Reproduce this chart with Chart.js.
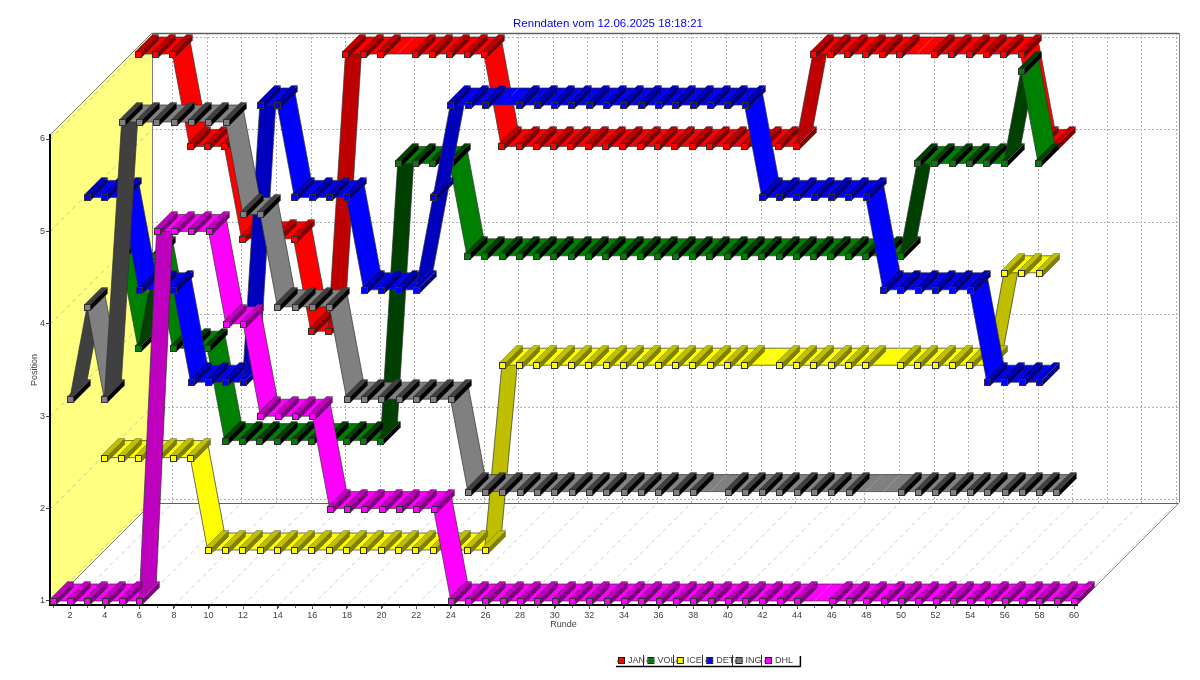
<!DOCTYPE html>
<html>
<head>
<meta charset="utf-8">
<title>Renndaten</title>
<script src="https://cdn.jsdelivr.net/npm/chart.js@4"></script>
<style>
  html, body { margin: 0; padding: 0; background: #fff; }
  canvas { display: block; }
</style>
</head>
<body>
<canvas id="raceChart" width="1200" height="680"></canvas>
<script>
/* ============================================================
   RENNDATEN — position per lap, one ribbon per team
   ============================================================ */

const teams = ['JAN', 'VOL', 'ICE', 'DET', 'ING', 'DHL'];
const teamColors = ['#ff0000', '#008000', '#ffff00', '#0000ff', '#808080', '#ff00ff'];

const roundTicks = [2, 4, 6, 8, 10, 12, 14, 16, 18, 20, 22, 24, 26, 28, 30, 32, 34, 36, 38, 40, 42, 44, 46, 48, 50, 52, 54, 56, 58, 60];
const positionTicks = [1, 2, 3, 4, 5, 6];

const jan = [6,6,6,5,5,5,4,4,4,4,3,3,6,6,6,6,6,6,6,6,6,5,5,5,5,5,5,5,5,5,5,5,5,5,5,5,5,5,5,6,6,6,6,6,6,6,6,6,6,6,6,6,5,5];
const vol = [4,3,4,3,3,3,2,2,2,2,2,2,2,2,2,2,5,5,5,5,4,4,4,4,4,4,4,4,4,4,4,4,4,4,4,4,4,4,4,4,4,4,4,4,4,4,5,5,5,5,5,5,6,5];
const ice = [2,2,2,2,2,2,1,1,1,1,1,1,1,1,1,1,1,1,1,1,1,1,1,3,3,3,3,3,3,3,3,3,3,3,3,3,3,3,3,3,3,3,3,3,3,3,3,3,3,3,3,3,4,4,4];
const det = [5,5,5,4,4,4,3,3,3,3,6,6,5,5,5,5,4,4,4,4,5,6,6,6,6,6,6,6,6,6,6,6,6,6,6,6,6,6,6,5,5,5,5,5,5,5,4,4,4,4,4,4,3,3,3,3];
const ing = [3,4,3,6,6,6,6,6,6,6,5,5,4,4,4,4,3,3,3,3,3,3,3,2,2,2,2,2,2,2,2,2,2,2,2,2,2,2,2,2,2,2,2,2,2,2,2,2,2,2,2,2,2,2,2,2,2,2];
const dhl = [1,1,1,1,1,1,5,5,5,5,4,4,3,3,3,3,2,2,2,2,2,2,2,1,1,1,1,1,1,1,1,1,1,1,1,1,1,1,1,1,1,1,1,1,1,1,1,1,1,1,1,1,1,1,1,1,1,1,1,1];
const teamValues = [jan, vol, ice, det, ing, dhl];

// rounds where the ribbon carries no pointer
const janNoPointer = [16, 46];
const volNoPointer = [];
const iceNoPointer = [39, 46];
const detNoPointer = [25];
const ingNoPointer = [38, 47, 48];
const dhlNoPointer = [45];
const noPointers = [janNoPointer, volNoPointer, iceNoPointer, detNoPointer, ingNoPointer, dhlNoPointer];

const SLOT = 17;                   // depth of one team's ribbon
const DEPTH = SLOT * teams.length; // depth of the whole box
const POINTER = 3;                 // half size of the pointer front
const FONT = '"Liberation Sans", Arial, sans-serif';

function darker(hex, amount) {
  const n = parseInt(hex.slice(1), 16);
  const c = [n >> 16, (n >> 8) & 255, n & 255].map(v => Math.max(0, v - amount));
  return `rgb(${c[0]},${c[1]},${c[2]})`;
}

function poly(ctx, pts, fill) {
  ctx.beginPath();
  pts.forEach((p, i) => i ? ctx.lineTo(p[0], p[1]) : ctx.moveTo(p[0], p[1]));
  ctx.closePath();
  ctx.fillStyle = fill;
  ctx.fill();
}

function line(ctx, x1, y1, x2, y2, color, dash, width) {
  ctx.beginPath();
  ctx.setLineDash(dash || []);
  ctx.strokeStyle = color;
  ctx.lineWidth = width || 1;
  ctx.moveTo(x1, y1);
  ctx.lineTo(x2, y2);
  ctx.stroke();
  ctx.setLineDash([]);
}

// Walls, floor and their grid
function drawBox(chart) {
  const { ctx, chartArea: a, scales: { x, y } } = chart;
  const d = DEPTH;

  ctx.save();
  ctx.fillStyle = '#fff';
  ctx.fillRect(0, 0, chart.width, chart.height);

  poly(ctx, [[a.left, a.top], [a.left + d, a.top - d], [a.left + d, a.bottom - d], [a.left, a.bottom]], '#ffff80');

  roundTicks.forEach(r => {
    const px = Math.round(x.getPixelForValue(r)) + 0.5;
    line(ctx, px + d, a.top - d, px + d, a.bottom - d, '#b0b0b0', [2, 2]);
    line(ctx, px, a.bottom, px + d, a.bottom - d, '#cccccc', [4, 4]);
  });
  positionTicks.forEach(p => {
    const py = Math.round(y.getPixelForValue(p)) + 0.5;
    line(ctx, a.left + d, py - d, a.right + d, py - d, '#b0b0b0', [2, 2]);
    line(ctx, a.left, py, a.left + d, py - d, '#c0c0a8', [4, 4]);
  });

  // box outline
  line(ctx, a.left + d, a.top - d + 0.5, a.right + d, a.top - d + 0.5, '#606060', null, 1.5);
  line(ctx, a.left + d + 0.5, a.top - d, a.left + d + 0.5, a.bottom - d, '#808080');
  line(ctx, a.right + d + 0.5, a.top - d, a.right + d + 0.5, a.bottom - d, '#808080');
  line(ctx, a.left + d, a.bottom - d + 0.5, a.right + d, a.bottom - d + 0.5, '#606060');
  line(ctx, a.left, a.top, a.left + d, a.top - d, '#808080');
  line(ctx, a.left, a.bottom, a.left + d, a.bottom - d, '#808080');
  line(ctx, a.right, a.bottom, a.right + d, a.bottom - d, '#808080');

  ctx.restore();
}

function drawRibbon(ctx, points, color, offset) {
  const edge = 'rgba(50,50,50,0.7)';
  for (let j = 0; j < points.length - 1; j++) {
    const x1 = points[j].x + offset, y1 = points[j].y - offset;
    const x2 = points[j + 1].x + offset, y2 = points[j + 1].y - offset;
    const fill = y2 < y1 - 1 ? darker(color, 64) : color;
    poly(ctx, [[x1, y1], [x1 + SLOT, y1 - SLOT], [x2 + SLOT, y2 - SLOT], [x2, y2]], fill);
    line(ctx, x1, y1, x2, y2, edge);
    line(ctx, x1 + SLOT, y1 - SLOT, x2 + SLOT, y2 - SLOT, edge);
  }
}

function drawPointer(ctx, px, py, color) {
  const h = POINTER, s = SLOT;
  const l = Math.round(px) + 0.5, t = Math.round(py) + 0.5;
  poly(ctx, [[l - h, t - h], [l + h, t - h], [l + h + s, t - h - s], [l - h + s, t - h - s]], darker(color, 64));
  poly(ctx, [[l + h, t - h], [l + h, t + h], [l + h + s, t + h - s], [l + h + s, t - h - s]], darker(color, 128));
  ctx.beginPath();
  ctx.moveTo(l - h, t - h);
  ctx.lineTo(l - h + s, t - h - s);
  ctx.lineTo(l + h + s, t - h - s);
  ctx.lineTo(l + h + s, t + h - s);
  ctx.lineTo(l + h, t + h);
  ctx.strokeStyle = 'rgba(60,60,60,0.35)';
  ctx.lineWidth = 1;
  ctx.stroke();
  ctx.fillStyle = color;
  ctx.fillRect(l - h, t - h, h * 2, h * 2);
  ctx.strokeStyle = '#303030';
  ctx.strokeRect(l - h, t - h, h * 2, h * 2);
}

// Back team first, so the front ribbons cover it
function drawTeams(chart) {
  const { ctx } = chart;
  ctx.save();
  chart.data.datasets.forEach((ds, i) => {
    const offset = SLOT * (teams.length - 1 - i);
    const points = chart.getDatasetMeta(i).data;
    drawRibbon(ctx, points, ds.borderColor, offset);
    points.forEach((pt, j) => {
      if (ds.noPointer.includes(j + 1)) return;
      drawPointer(ctx, pt.x + offset, pt.y - offset, ds.borderColor);
    });
  });
  ctx.restore();
}

// Small ticks for the odd rounds too, legend strip under the chart
function drawExtras(chart) {
  const { ctx, chartArea: a, scales: { x } } = chart;
  ctx.save();
  const lastRound = roundTicks[roundTicks.length - 1];
  for (let r = 1; r <= lastRound; r++) {
    const px = Math.round(x.getPixelForValue(r)) + 0.5;
    line(ctx, px, a.bottom + 1, px, a.bottom + 3, '#606060');
  }

  const left = 616, top = 655, cell = 29.4, h = 11;
  ctx.font = '9px ' + FONT;
  ctx.textBaseline = 'middle';
  ctx.textAlign = 'left';
  teams.forEach((name, i) => {
    const cx = left + i * cell;
    line(ctx, cx + 1, top + h / 2 + 0.5, cx + 9, top + h / 2 + 0.5, '#202020');
    ctx.fillStyle = teamColors[i];
    ctx.fillRect(cx + 3, top + 3, 5, 5);
    ctx.strokeStyle = '#202020';
    ctx.lineWidth = 1;
    ctx.strokeRect(cx + 2.5, top + 2.5, 6, 6);
    ctx.fillStyle = '#404040';
    ctx.fillText(name, cx + 12, top + h / 2 + 0.5);
    if (i > 0) line(ctx, Math.round(cx) - 1.5, top, Math.round(cx) - 1.5, top + h, '#303030');
  });
  const right = left + teams.length * cell + 8;
  line(ctx, left, top + h + 0.5, right, top + h + 0.5, '#000', null, 1.5);
  line(ctx, right, top + 1, right, top + h + 1, '#000', null, 1.5);
  ctx.restore();
}

const boxPlugin = {
  id: 'box3d',
  afterLayout(chart) {
    // title sits over the middle of the box, not the front plane
    chart.titleBlock.left = 50;
    chart.titleBlock.right = 1166;
  },
  beforeDraw: drawBox,
  afterDatasetsDraw: drawTeams,
  afterDraw: drawExtras
};

new Chart(document.getElementById('raceChart').getContext('2d'), {
  type: 'line',
  plugins: [boxPlugin],
  data: {
    datasets: teams.map((name, i) => ({
      label: name,
      data: teamValues[i].map((p, j) => ({ x: j + 1, y: p })),
      borderColor: teamColors[i],
      backgroundColor: teamColors[i],
      noPointer: noPointers[i],
      showLine: false,
      pointRadius: 0,
      pointHoverRadius: 0
    }))
  },
  options: {
    responsive: false,
    animation: false,
    events: [],
    layout: { padding: { left: 29, right: 123, top: 0, bottom: 50 } },
    plugins: {
      legend: { display: false },
      tooltip: { enabled: false },
      title: {
        display: true,
        text: 'Renndaten vom 12.06.2025 18:18:21',
        color: '#0000ff',
        font: { family: FONT, size: 11.5, weight: 'normal', lineHeight: 1.2 },
        padding: { top: 17, bottom: 104.2 }
      }
    },
    scales: {
      x: {
        type: 'linear',
        min: 0.844,
        max: 60.17,
        afterBuildTicks: s => { s.ticks = roundTicks.map(v => ({ value: v })); },
        afterFit: s => { s.height = 25; },
        border: { color: '#000', width: 2 },
        grid: { drawOnChartArea: false, tickColor: '#404040', tickLength: 4 },
        ticks: {
          autoSkip: false,
          maxRotation: 0,
          padding: 1,
          color: '#404040',
          font: { family: FONT, size: 9 }
        },
        title: {
          display: true,
          text: 'Runde',
          color: '#404040',
          padding: { top: 1, bottom: 0 },
          font: { family: FONT, size: 9 }
        }
      },
      y: {
        type: 'linear',
        min: 0.9567,
        max: 6.0433,
        afterBuildTicks: s => { s.ticks = positionTicks.map(v => ({ value: v })); },
        afterFit: s => { s.width = 21; },
        border: { color: '#000', width: 2 },
        grid: { drawOnChartArea: false, tickColor: '#404040', tickLength: 4 },
        ticks: {
          autoSkip: false,
          padding: 1,
          color: '#404040',
          font: { family: FONT, size: 9 }
        },
        title: {
          display: true,
          text: 'Position',
          color: '#404040',
          padding: 0,
          font: { family: FONT, size: 9 }
        }
      }
    }
  }
});
</script>
</body>
</html>
